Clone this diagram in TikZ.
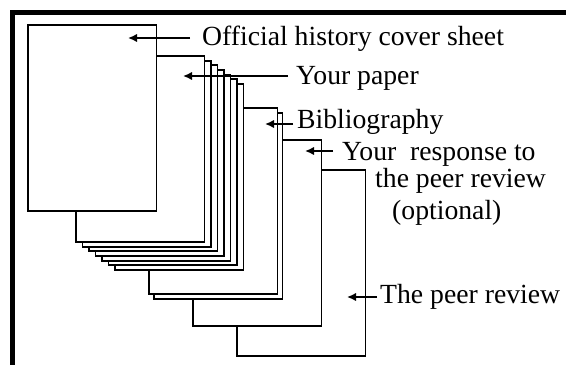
\documentclass[tikz,border=0pt]{standalone}
\usepackage{fontspec}
\setmainfont{Liberation Serif}
\usetikzlibrary{arrows.meta}

\tikzset{
  sheet/.style={draw, fill=white, line width=1.9bp, rectangle, anchor=north west,
    minimum width=128.5bp, minimum height=186bp, inner sep=0pt, outer sep=0pt},
  pointer/.style={line width=2.3bp, -{Latex[length=9bp,width=8.5bp]}},
  label/.style={anchor=base west, inner sep=0pt,
    font=\fontsize{27.8}{32}\selectfont},
  frameline/.style={fill=black, draw=none}
}

\begin{document}
\begin{tikzpicture}[x=1bp, y=-1bp]
  \useasboundingbox (0,0) rectangle (566,365);

  % thick frame along the top and left edges
  \fill[frameline] (10,10) rectangle (566,15);
  \fill[frameline] (10,10) rectangle (15,365);

  % sheets, from the back of the pile to the front
  \node[sheet] (review)   at (237,170) {};
  \node[sheet] (response) at (193,140) {};
  \node[sheet] (bibB)     at (154,113) {};
  \node[sheet] (bibA)     at (149,108) {};
  \foreach \k in {6,5,...,0}{
    \node[sheet] (paper\k) at ({76+6.5*\k},{56+4.67*\k}) {};
  }
  \node[sheet] (cover) at (28,25) {};

  % labels
  \node[label] (tcover)    at (202,45)  {Official history cover sheet};
  \node[label] (tpaper)    at (296,84)  {Your paper};
  \node[label] (tbib)      at (297,128) {Bibliography};
  \node[label] (tresp)     at (342,160) {Your\ \ response to};
  \node[label] (tresp2)    at (375,187) {the peer review};
  \node[label] (tresp3)    at (392,219) {(optional)};
  \node[label] (treview)   at (380,303) {The peer review};

  % arrow ends
  \coordinate (acover0)  at (190,38);   \coordinate (acover1)  at (128,38);
  \coordinate (apaper0)  at (288,76);   \coordinate (apaper1)  at (183,76);
  \coordinate (abib0)    at (293,124);  \coordinate (abib1)    at (265,124);
  \coordinate (aresp0)   at (333,151);  \coordinate (aresp1)   at (305,151);
  \coordinate (areview0) at (377,297);  \coordinate (areview1) at (347,297);

  % pointers from each label into its sheet
  \draw[pointer] (acover0)  -- (acover1);
  \draw[pointer] (apaper0)  -- (apaper1);
  \draw[pointer] (abib0)    -- (abib1);
  \draw[pointer] (aresp0)   -- (aresp1);
  \draw[pointer] (areview0) -- (areview1);
\end{tikzpicture}
\end{document}
